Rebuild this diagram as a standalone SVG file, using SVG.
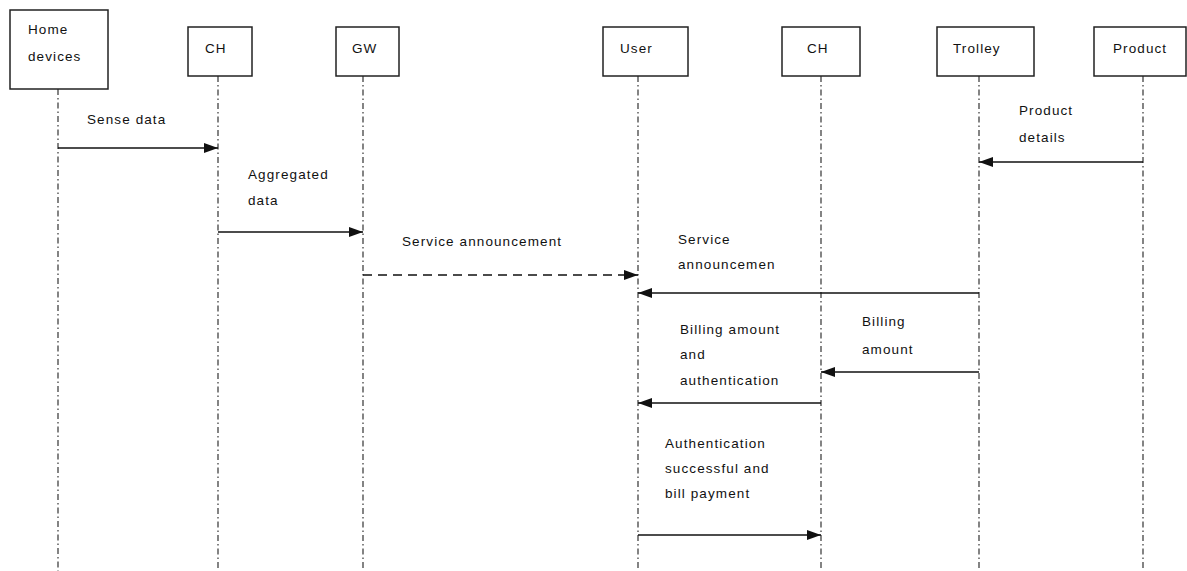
<svg xmlns="http://www.w3.org/2000/svg" width="1187" height="571" viewBox="0 0 1187 571">
<style>
.box{fill:#fff;stroke:#222;stroke-width:1.5}
.life{stroke:#333;stroke-width:1.2;stroke-dasharray:6 3 1.5 3;fill:none}
.msg{stroke:#111;stroke-width:1.5;fill:none}
.dash{stroke-dasharray:9 6}
text{font-family:"Liberation Sans",Arial,sans-serif;font-size:13.5px;letter-spacing:1.1px;fill:#111}
</style>
<defs>
<marker id="ah" markerWidth="14" markerHeight="10" refX="14" refY="5" orient="auto" markerUnits="userSpaceOnUse">
<path d="M0,0 L14,5 L0,10 Z" fill="#111"/>
</marker>
</defs>
<rect width="1187" height="571" fill="#fff"/>
<g id="lifelines">
<line class="life" x1="58" y1="89" x2="58" y2="571"/>
<line class="life" x1="218" y1="76" x2="218" y2="571"/>
<line class="life" x1="363" y1="76" x2="363" y2="571"/>
<line class="life" x1="638" y1="76" x2="638" y2="571"/>
<line class="life" x1="821" y1="76" x2="821" y2="571"/>
<line class="life" x1="979" y1="76" x2="979" y2="571"/>
<line class="life" x1="1143" y1="76" x2="1143" y2="571"/>
</g>
<g id="n-home"><rect class="box" x="10" y="10" width="98" height="79"/><text x="28" y="34">Home</text><text x="28" y="61">devices</text></g>
<g id="n-ch1"><rect class="box" x="188" y="27" width="64" height="49"/><text x="205" y="53">CH</text></g>
<g id="n-gw"><rect class="box" x="336" y="27" width="63" height="49"/><text x="352" y="53">GW</text></g>
<g id="n-user"><rect class="box" x="603" y="27" width="85" height="49"/><text x="620" y="53">User</text></g>
<g id="n-ch2"><rect class="box" x="782" y="27" width="78" height="49"/><text x="807" y="53">CH</text></g>
<g id="n-trolley"><rect class="box" x="937" y="27" width="97" height="49"/><text x="953" y="53">Trolley</text></g>
<g id="n-product"><rect class="box" x="1094" y="27" width="92" height="49"/><text x="1113" y="53">Product</text></g>
<g id="connectors">
<line class="msg" x1="58" y1="148" x2="218" y2="148" marker-end="url(#ah)"/>
<line class="msg" x1="1143" y1="162" x2="979" y2="162" marker-end="url(#ah)"/>
<line class="msg" x1="218" y1="232" x2="363" y2="232" marker-end="url(#ah)"/>
<line class="msg dash" x1="363" y1="275" x2="638" y2="275" marker-end="url(#ah)"/>
<line class="msg" x1="979" y1="293" x2="638" y2="293" marker-end="url(#ah)"/>
<line class="msg" x1="979" y1="372" x2="821" y2="372" marker-end="url(#ah)"/>
<line class="msg" x1="821" y1="403" x2="638" y2="403" marker-end="url(#ah)"/>
<line class="msg" x1="638" y1="535" x2="821" y2="535" marker-end="url(#ah)"/>
</g>
<g id="labels">
<text x="87" y="124">Sense data</text>
<text x="1019" y="115">Product</text>
<text x="1019" y="142">details</text>
<text x="248" y="179">Aggregated</text>
<text x="248" y="205">data</text>
<text x="402" y="246">Service announcement</text>
<text x="678" y="244">Service</text>
<text x="678" y="269">announcemen</text>
<text x="862" y="326">Billing</text>
<text x="862" y="354">amount</text>
<text x="680" y="334">Billing amount</text>
<text x="680" y="359">and</text>
<text x="680" y="385">authentication</text>
<text x="665" y="448">Authentication</text>
<text x="665" y="473">successful and</text>
<text x="665" y="498">bill payment</text>
</g>
</svg>
